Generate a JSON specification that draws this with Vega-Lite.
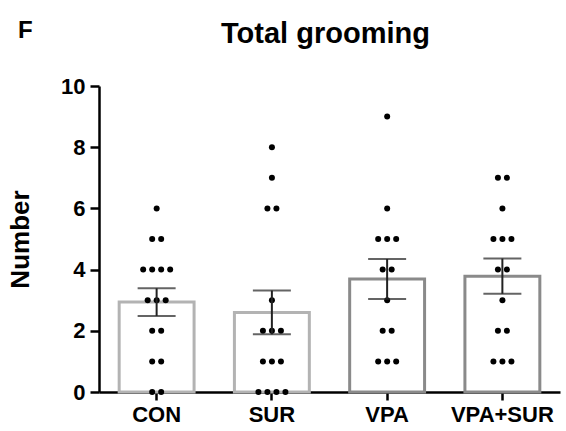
{
  "$schema": "https://vega.github.io/schema/vega-lite/v6.json",
  "autosize": "none",
  "width": 461,
  "height": 306,
  "padding": {"left": 99, "top": 86, "right": 6, "bottom": 39},
  "background": "white",
  "title": {"text": "F", "anchor": "start", "frame": "group", "dx": -81, "dy": 20, "offset": -4, "fontSize": 24, "font": "Liberation Sans", "fontWeight": "bold", "color": "black"},
  "data": {"values": [
    {"g":"CON","v":6},{"g":"CON","v":5},{"g":"CON","v":5},{"g":"CON","v":4},{"g":"CON","v":4},{"g":"CON","v":4},{"g":"CON","v":4},{"g":"CON","v":3},{"g":"CON","v":3},{"g":"CON","v":3},{"g":"CON","v":2},{"g":"CON","v":2},{"g":"CON","v":1},{"g":"CON","v":1},{"g":"CON","v":0},{"g":"CON","v":0},
    {"g":"SUR","v":8},{"g":"SUR","v":7},{"g":"SUR","v":6},{"g":"SUR","v":6},{"g":"SUR","v":3},{"g":"SUR","v":2},{"g":"SUR","v":2},{"g":"SUR","v":2},{"g":"SUR","v":1},{"g":"SUR","v":1},{"g":"SUR","v":1},{"g":"SUR","v":0},{"g":"SUR","v":0},{"g":"SUR","v":0},{"g":"SUR","v":0},
    {"g":"VPA","v":9},{"g":"VPA","v":6},{"g":"VPA","v":5},{"g":"VPA","v":5},{"g":"VPA","v":5},{"g":"VPA","v":4},{"g":"VPA","v":4},{"g":"VPA","v":3},{"g":"VPA","v":2},{"g":"VPA","v":2},{"g":"VPA","v":1},{"g":"VPA","v":1},{"g":"VPA","v":1},
    {"g":"VPA+SUR","v":7},{"g":"VPA+SUR","v":7},{"g":"VPA+SUR","v":6},{"g":"VPA+SUR","v":5},{"g":"VPA+SUR","v":5},{"g":"VPA+SUR","v":5},{"g":"VPA+SUR","v":4},{"g":"VPA+SUR","v":4},{"g":"VPA+SUR","v":3},{"g":"VPA+SUR","v":2},{"g":"VPA+SUR","v":2},{"g":"VPA+SUR","v":1},{"g":"VPA+SUR","v":1},{"g":"VPA+SUR","v":1}
  ]},
  "config": {
    "view": {"stroke": null},
    "axis": {"labelFont": "Liberation Sans", "labelFontWeight": "bold", "labelFontSize": 22, "labelColor": "black", "titleFont": "Liberation Sans", "titleFontWeight": "bold", "titleColor": "black", "domainColor": "black", "tickColor": "black", "domainWidth": 2.5, "tickWidth": 2.5, "grid": false}
  },
  "layer": [
    {
      "mark": {"type": "bar", "fill": "white", "strokeWidth": 3},
      "encoding": {
        "x": {"field": "g", "type": "nominal", "sort": ["CON","SUR","VPA","VPA+SUR"],
          "scale": {"paddingInner": 0.35, "paddingOuter": 0.175, "align": 0.5},
          "axis": {"title": null, "labelAngle": 0, "tickSize": 8, "labelPadding": 4}},
        "y": {"aggregate": "mean", "field": "v", "type": "quantitative", "title": "Number", "scale": {"domain": [0, 10]},
          "axis": {"titleFontSize": 26, "values": [0,2,4,6,8,10], "tickSize": 9, "labelPadding": 5, "titlePadding": 27}},
        "stroke": {"field": "g", "type": "nominal", "legend": null,
          "scale": {"domain": ["CON","SUR","VPA","VPA+SUR"], "range": ["#b3b3b3","#b3b3b3","#8a8a8a","#8a8a8a"]}}
      }
    },
    {
      "transform": [
        {"window": [{"op": "row_number", "as": "rn"}], "groupby": ["g","v"]},
        {"joinaggregate": [{"op": "count", "as": "n"}], "groupby": ["g","v"]},
        {"calculate": "datum.rn - (datum.n + 1) / 2", "as": "off"}
      ],
      "mark": {"type": "circle", "color": "black", "opacity": 1, "size": 36},
      "encoding": {
        "x": {"field": "g", "type": "nominal", "sort": ["CON","SUR","VPA","VPA+SUR"], "axis": null},
        "y": {"field": "v", "type": "quantitative", "title": "Number"},
        "xOffset": {"field": "off", "type": "quantitative", "scale": {"domain": [-1, 1], "range": [28.5, 46.5]}}
      }
    },
    {
      "mark": {"type": "errorbar", "extent": "stderr", "color": "#222", "thickness": 2, "ticks": {"size": 38, "thickness": 2, "color": "#222"}},
      "encoding": {
        "x": {"field": "g", "type": "nominal", "sort": ["CON","SUR","VPA","VPA+SUR"], "axis": null},
        "y": {"field": "v", "type": "quantitative", "title": "Number"}
      }
    },
    {
      "mark": {"type": "point", "opacity": 0},
      "encoding": {
        "x": {"field": "g", "type": "nominal", "sort": ["CON","SUR","VPA","VPA+SUR"],
          "axis": {"orient": "top", "title": "Total grooming", "titleFontSize": 29, "titleX": 226, "titleAlign": "center", "labels": false, "ticks": false, "domain": false, "titlePadding": 44, "titleBaseline": "alphabetic"}},
        "y": {"aggregate": "mean", "field": "v", "type": "quantitative", "title": "Number"}
      }
    }
  ],
  "resolve": {"axis": {"x": "independent"}, "scale": {"xOffset": "independent"}}
}
